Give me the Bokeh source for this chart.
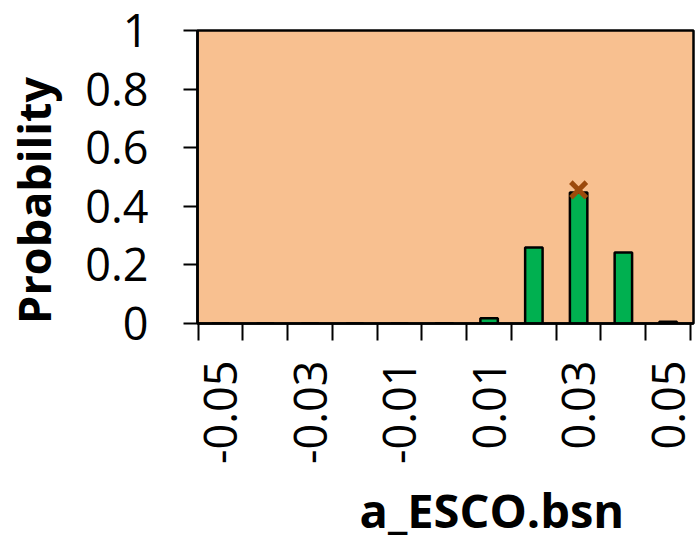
import math
from bokeh.plotting import figure
from bokeh.models import Range1d, FixedTicker, LinearAxis
from bokeh.embed import file_html
from bokeh.resources import INLINE

# ---- data ----
bin_centers = [-0.05, -0.04, -0.03, -0.02, -0.01, 0.00, 0.01, 0.02, 0.03, 0.04, 0.05]
probabilities = [0.0, 0.0, 0.0, 0.0, 0.0, 0.001, 0.018, 0.259, 0.447, 0.242, 0.006]
bin_edges = [-0.055, -0.045, -0.035, -0.025, -0.015, -0.005, 0.005, 0.015, 0.025, 0.035, 0.045, 0.055]
x_tick_values = [-0.05, -0.03, -0.01, 0.01, 0.03, 0.05]
x_tick_labels = ["-0.05", "-0.03", "-0.01", "0.01", "0.03", "0.05"]
y_tick_values = [0, 0.2, 0.4, 0.6, 0.8, 1.0]
y_tick_labels = ["0", "0.2", "0.4", "0.6", "0.8", "1"]
marker_x = [0.03]
marker_y = [0.456]
x_title = "a_ESCO.bsn"
y_title = "Probability"

# layout constant: where the x-axis title is centred (x data units)
X_TITLE_AT = 0.01062
# trailing no-break spaces shift the y title down, as in the reference
Y_TITLE_PAD = "\u00a0" * 4

FONT = "Open Sans"

p = figure(width=696, height=550, output_backend="svg", toolbar_location=None,
           x_range=Range1d(-0.05516, 0.05567), y_range=Range1d(0, 1),
           min_border_left=196, min_border_right=3, min_border_top=30, min_border_bottom=227)

p.background_fill_color = "#F8C090"
p.border_fill_color = "white"
p.outline_line_color = "black"
p.outline_line_width = 2.5
p.xgrid.visible = False
p.ygrid.visible = False

p.vbar(x=bin_centers, top=probabilities, bottom=0, width=0.0039,
       fill_color="#00B050", line_color="black", line_width=2.5)
p.scatter(x=marker_x, y=marker_y, marker="x", size=22, line_width=5, line_color="#9C4A0C")

# x axis
xa = p.xaxis[0]
xa.ticker = FixedTicker(ticks=x_tick_values, minor_ticks=bin_edges)
xa.major_label_overrides = {v: l for v, l in zip(x_tick_values, x_tick_labels)}
xa.major_label_orientation = math.pi / 2
xa.major_tick_out = 0
xa.major_tick_in = 0
xa.minor_tick_out = 17
xa.minor_tick_in = 0
xa.minor_tick_line_color = "black"
xa.minor_tick_line_width = 2
xa.axis_line_width = 2.5
xa.axis_line_color = "black"
xa.major_label_standoff = 20
xa.major_label_text_font = FONT
xa.major_label_text_font_size = "45px"
xa.major_label_text_color = "black"

# y axis
ya = p.yaxis[0]
ya.ticker = FixedTicker(ticks=y_tick_values)
ya.major_label_overrides = {v: l for v, l in zip(y_tick_values, y_tick_labels)}
ya.major_tick_out = 14
ya.major_tick_in = 0
ya.minor_tick_out = 0
ya.minor_tick_in = 0
ya.major_tick_line_width = 2
ya.axis_line_width = 2.5
ya.axis_line_color = "black"
ya.major_label_standoff = 35
ya.major_label_text_font = FONT
ya.major_label_text_font_size = "45px"
ya.major_label_text_color = "black"
ya.axis_label = y_title + Y_TITLE_PAD
ya.axis_label_standoff = 18
ya.axis_label_text_font = FONT
ya.axis_label_text_font_style = "bold"
ya.axis_label_text_font_size = "45px"
ya.axis_label_text_color = "black"

# x-axis title, drawn as the single label of an extra (line-less) axis
xt = LinearAxis(ticker=FixedTicker(ticks=[X_TITLE_AT]),
                major_label_overrides={X_TITLE_AT: x_title},
                axis_line_color=None, major_tick_line_color=None,
                minor_tick_line_color=None, major_tick_out=0, major_tick_in=0,
                minor_tick_out=0, minor_tick_in=0,
                major_label_standoff=11,
                major_label_text_font=FONT, major_label_text_font_style="bold",
                major_label_text_font_size="47px", major_label_text_color="black")
p.add_layout(xt, "below")

open("out.html", "w").write(file_html(p, INLINE))
